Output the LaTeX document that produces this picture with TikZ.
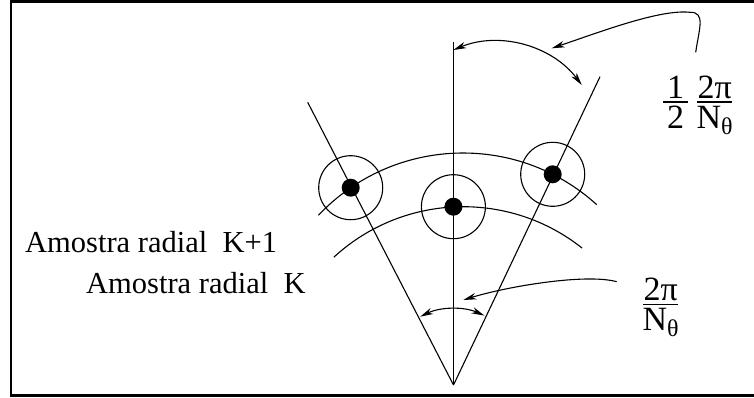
\documentclass[tikz,border=0pt]{standalone}
\usepackage{fontspec}
\setmainfont{Liberation Serif}
\usetikzlibrary{arrows.meta}
\newcommand{\ntheta}{N\raisebox{-0.18em}{\fontsize{24}{26}\selectfont θ}}
% width, numerator, denominator; baseline = denominator baseline
\newcommand{\stackfrac}[3]{\vbox{\hbox to #1{\hss\raisebox{0pt}[0pt][0pt]{#2}\hss}\kern3pt\hrule height 1.1pt\kern26pt\hbox to #1{\hss\raisebox{0pt}[0pt][0pt]{#3}\hss}}}
\begin{document}
\begin{tikzpicture}[x=1pt,y=1pt,
  thinline/.style={line width=1.1pt},
  ring/.style={circle, draw, line width=1.1pt, minimum size=64pt, inner sep=0pt},
  blob/.style={circle, fill=black, minimum size=18pt, inner sep=0pt},
  arrowtip/.style={-{Stealth[length=13pt,width=6.5pt,inset=4pt]}},
  twotips/.style={{Stealth[length=13pt,width=6.5pt,inset=4pt]}-{Stealth[length=13pt,width=6.5pt,inset=4pt]}},
  lbl/.style={inner sep=0pt, anchor=base west, font=\fontsize{30.5}{36}\selectfont},
  fraclbl/.style={inner sep=0pt, anchor=base west, font=\fontsize{34}{40}\selectfont},
  frame/.style={line width=2.6pt}]
\useasboundingbox (0,0) rectangle (754,397);
% frame (left, top, bottom)
\draw[frame] (760,395.65) -- (11,395.65) -- (11,1.5) -- (760,1.5);
% rays
\coordinate (apex) at (453.5,12);
\coordinate (vtop) at (453.5,355);
\coordinate (rtop) at (600,320.3);
\coordinate (ltop) at (307.7,294.7);
\draw[thinline] (apex) -- (vtop);
\draw[thinline] (apex) -- (rtop);
\draw[thinline] (apex) -- (ltop);
% radial sample arcs
\coordinate (oc) at (463,45);
\coordinate (ic) at (463.3,-1);
\draw[thinline] (oc) ++(136.6:199) arc[start angle=136.6, end angle=47.8, radius=199];
\draw[thinline] (ic) ++(132.6:191.3) arc[start angle=132.6, end angle=51.6, radius=191.3];
% angle arcs
\coordinate (tc) at (495,246.8);
\draw[thinline, twotips] (tc) ++(112.6:108.5) arc[start angle=112.6, end angle=36.9, radius=108.5];
\draw[thinline, twotips] (apex) ++(116:76) arc[start angle=116, end angle=66, radius=76];
% samples
\node[blob] (dL) at (350.7,209.3) {};
\node[blob] (dC) at (453.4,190.3) {};
\node[blob] (dR) at (552.7,222.7) {};
\node[ring] (cL) at (dL) {};
\node[ring] (cC) at (dC) {};
\node[ring] (cR) at (dR) {};
% leaders
\coordinate (q0) at (695.7,344.7);
\coordinate (q1) at (690,384.7);
\coordinate (q2) at (551.7,348.7);
\draw[thinline, arrowtip] (q0) .. controls (699,368) and (706,385) .. (q1)
  .. controls (660,388) and (600,365) .. (q2);
\coordinate (b0) at (616.7,115.3);
\coordinate (b1) at (463.3,97);
\draw[thinline, arrowtip] (b0) .. controls (585,124) and (505,110) .. (b1);
% labels
\node[lbl] (kp1) at (25,145) {Amostra radial\ \ K+1};
\node[lbl] (k) at (86,104) {Amostra radial\ \ K};
% fractions
\node[fraclbl] (halfangle) at (663,268.45)
  {\stackfrac{25pt}{1}{2}\hspace{9pt}\stackfrac{35pt}{2π}{\ntheta}};
\node[fraclbl] (fullangle) at (643,66.15)
  {\stackfrac{35pt}{2π}{\ntheta}};
\end{tikzpicture}
\end{document}
